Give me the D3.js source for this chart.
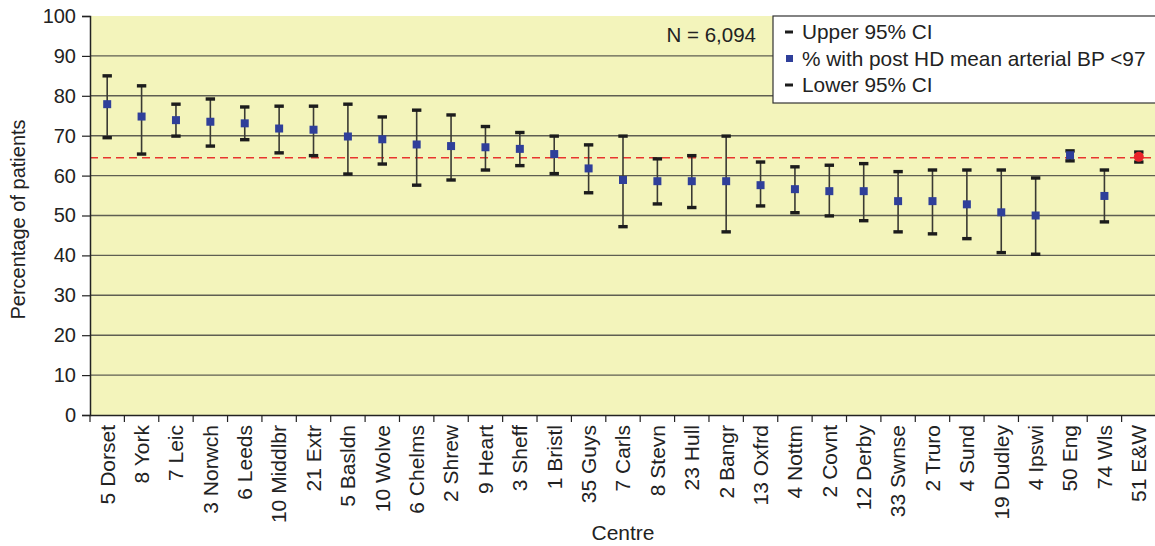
<!DOCTYPE html>
<html lang="en">
<head>
    <meta charset="UTF-8">
    <title>Post HD mean arterial BP by centre</title>
    <style>
        body {
            margin: 0;
            padding: 0;
            background: #fff;
            font-family: "Liberation Sans", Arial, sans-serif;
        }
        svg text {
            fill: #222;
        }
    </style>
    <script src="https://d3js.org/d3.v7.min.js"></script>
</head>
<body>
    <svg id="chart" width="1155" height="546"></svg>

    <script>
        const centres = [
            "5 Dorset", "8 York", "7 Leic", "3 Norwch", "6 Leeds", "10 Middlbr", "21 Extr",
            "5 Basldn", "10 Wolve", "6 Chelms", "2 Shrew", "9 Heart", "3 Sheff", "1 Bristl",
            "35 Guys", "7 Carls", "8 Stevn", "23 Hull", "2 Bangr", "13 Oxfrd", "4 Nottm",
            "2 Covnt", "12 Derby", "33 Swnse", "2 Truro", "4 Sund", "19 Dudley", "4 Ipswi",
            "50 Eng", "74 Wls", "51 E&W"
        ];
        const pct = [
            77.9, 74.8, 73.9, 73.5, 73.1, 71.8, 71.5,
            69.8, 69.1, 67.8, 67.4, 67.1, 66.7, 65.4,
            61.8, 58.9, 58.6, 58.6, 58.6, 57.6, 56.6,
            56.1, 56.1, 53.6, 53.6, 52.8, 50.8, 50.0,
            65.1, 54.9, 64.7
        ];
        const upper = [
            85.0, 82.5, 77.9, 79.2, 77.2, 77.4, 77.4,
            77.9, 74.7, 76.4, 75.2, 72.3, 70.8, 69.9,
            67.7, 69.9, 64.2, 65.0, 69.9, 63.4, 62.2,
            62.6, 63.0, 61.0, 61.4, 61.4, 61.4, 59.4,
            66.2, 61.4, 65.9
        ];
        const lower = [
            69.5, 65.4, 69.9, 67.4, 69.0, 65.7, 65.0,
            60.4, 62.9, 57.6, 58.9, 61.4, 62.5, 60.5,
            55.7, 47.2, 52.9, 52.0, 45.9, 52.4, 50.7,
            49.9, 48.7, 45.9, 45.4, 44.2, 40.7, 40.3,
            63.7, 48.4, 63.4
        ];
        const yTicks = [0, 10, 20, 30, 40, 50, 60, 70, 80, 90, 100];
        const nationalAvg = 64.5;
        const nLabel = "N = 6,094";
        const legendItems = ["Upper 95% CI", "% with post HD mean arterial BP <97", "Lower 95% CI"];

        const rows = centres.map((c, i) => ({ centre: c, pct: pct[i], upper: upper[i], lower: lower[i] }));

        const plotLeft = 90, plotRight = 1156, plotTop = 16, plotBottom = 415;
        const svg = d3.select("#chart");

        const x = d3.scaleBand().domain(centres).range([plotLeft, plotRight]).padding(0);
        const y = d3.scaleLinear().domain([0, 100]).range([plotBottom, plotTop]);

        // plot background
        svg.append("rect")
            .attr("x", plotLeft).attr("y", plotTop)
            .attr("width", plotRight - plotLeft).attr("height", plotBottom - plotTop)
            .attr("fill", "#f3f4bb");

        // gridlines
        svg.append("g")
            .selectAll("line")
            .data(yTicks.filter(d => d > 0 && d < 100))
            .enter().append("line")
            .attr("x1", plotLeft).attr("x2", plotRight)
            .attr("y1", d => y(d)).attr("y2", d => y(d))
            .attr("stroke", "#5e5e52")
            .attr("stroke-width", 1.4);

        // average line
        svg.append("line")
            .attr("x1", plotLeft).attr("x2", plotRight)
            .attr("y1", y(nationalAvg)).attr("y2", y(nationalAvg))
            .attr("stroke", "#e8352e")
            .attr("stroke-width", 1.5)
            .attr("stroke-dasharray", "8,5");

        // axes
        const yAxis = svg.append("g")
            .attr("transform", `translate(${plotLeft},0)`)
            .call(d3.axisLeft(y).tickValues(yTicks).tickSize(8).tickPadding(6));
        yAxis.select(".domain").attr("stroke", "#222").attr("stroke-width", 1.5);
        yAxis.selectAll(".tick line").attr("stroke", "#222").attr("stroke-width", 1.2);
        yAxis.selectAll(".tick text")
            .attr("font-size", 20)
            .attr("font-family", "Liberation Sans, Arial, sans-serif")
            .attr("fill", "#222");

        const xAxis = svg.append("g")
            .attr("transform", `translate(0,${plotBottom})`)
            .call(d3.axisBottom(x).tickSize(0).tickFormat(d => d));
        xAxis.select(".domain").attr("stroke", "#222").attr("stroke-width", 1.5);
        xAxis.selectAll(".tick text")
            .attr("font-size", 21)
            .attr("font-family", "Liberation Sans, Arial, sans-serif")
            .attr("fill", "#222")
            .attr("text-anchor", "end")
            .attr("transform", "rotate(-90)")
            .attr("x", -10)
            .attr("y", 0)
            .attr("dy", "0.35em");

        // category separators on the x axis
        svg.append("g")
            .selectAll("line")
            .data(centres)
            .enter().append("line")
            .attr("x1", d => x(d)).attr("x2", d => x(d))
            .attr("y1", plotBottom).attr("y2", plotBottom + 7)
            .attr("stroke", "#222")
            .attr("stroke-width", 1.2);

        // error bars
        const bars = svg.append("g")
            .selectAll("g")
            .data(rows)
            .enter().append("g")
            .attr("transform", d => `translate(${x(d.centre) + x.bandwidth() / 2},0)`);

        bars.append("line")
            .attr("y1", d => y(d.upper)).attr("y2", d => y(d.lower))
            .attr("stroke", "#3a3a33")
            .attr("stroke-width", 1.6);

        bars.selectAll("rect.cap")
            .data(d => [d.upper, d.lower])
            .enter().append("rect")
            .attr("class", "cap")
            .attr("x", -4.7).attr("width", 9.4)
            .attr("y", v => y(v) - 1.7).attr("height", 3.4)
            .attr("fill", "#1c1c1c");

        bars.filter(d => d.centre !== "51 E&W")
            .append("rect")
            .attr("x", -4).attr("width", 8)
            .attr("y", d => y(d.pct) - 4).attr("height", 8)
            .attr("fill", "#2f3f9a");

        bars.filter(d => d.centre === "51 E&W")
            .append("circle")
            .attr("cy", d => y(d.pct))
            .attr("r", 5)
            .attr("fill", "#e8242a");

        // N label
        svg.append("text")
            .attr("x", 756).attr("y", 42)
            .attr("text-anchor", "end")
            .attr("font-size", 20.5)
            .text(nLabel);

        // legend
        const legend = svg.append("g").attr("transform", "translate(773,16)");
        legend.append("rect")
            .attr("x", 0).attr("y", 0)
            .attr("width", 395).attr("height", 87)
            .attr("fill", "#fff")
            .attr("stroke", "#333")
            .attr("stroke-width", 1.2);

        legendItems.forEach((label, i) => {
            const ly = 16 + i * 26.5;
            if (i === 1) {
                legend.append("rect")
                    .attr("x", 13).attr("y", ly - 3.5)
                    .attr("width", 7).attr("height", 7)
                    .attr("fill", "#2f3f9a");
            } else {
                legend.append("rect")
                    .attr("x", 12).attr("y", ly - 1.5)
                    .attr("width", 8).attr("height", 3)
                    .attr("fill", "#1c1c1c");
            }
            legend.append("text")
                .attr("x", 29).attr("y", ly)
                .attr("dy", "0.35em")
                .attr("font-size", 20.8)
                .text(label);
        });

        // axis titles
        svg.append("text")
            .attr("transform", `translate(25,${(plotTop + plotBottom) / 2 + 4}) rotate(-90)`)
            .attr("text-anchor", "middle")
            .attr("font-size", 20)
            .text("Percentage of patients");

        svg.append("text")
            .attr("x", 623).attr("y", 540)
            .attr("text-anchor", "middle")
            .attr("font-size", 21)
            .text("Centre");
    </script>
</body>
</html>
